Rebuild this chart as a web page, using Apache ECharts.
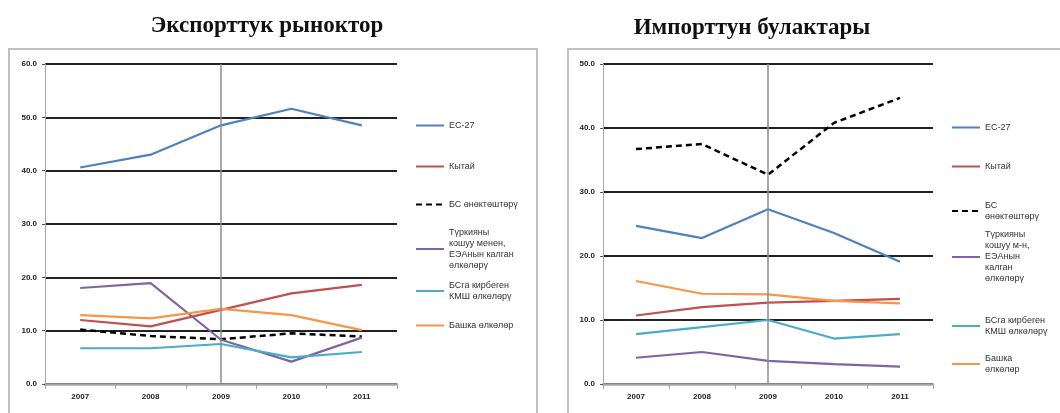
<!DOCTYPE html>
<html><head><meta charset="utf-8">
<script src="https://cdn.jsdelivr.net/npm/echarts@6/dist/echarts.min.js"></script>
<style>html,body{margin:0;padding:0;background:#fff}#c{width:1060px;height:413px}</style>
</head><body><div id="c"></div>
<script>
const years = ['2007','2008','2009','2010','2011'];
const seriesNames = ['ЕС-27','Кытай','БС өнөктөштөрү','Түркияны кошуу менен, ЕЭАнын калган өлкөлөрү','БСга кирбеген КМШ өлкөлөрү','Башка өлкөлөр'];
const exportTitle = 'Экспорттук рыноктор';
const importTitle = 'Импорттун булактары';
const exportLegend = ['ЕС-27','Кытай','БС өнөктөштөрү','Түркияны\nкошуу менен,\nЕЭАнын калган\nөлкөлөрү','БСга кирбеген\nКМШ өлкөлөрү','Башка өлкөлөр'];
const importLegend = ['ЕС-27','Кытай','БС\nөнөктөштөрү','Түркияны\nкошуу м-н,\nЕЭАнын\nкалган\nөлкөлөрү','БСга кирбеген\nКМШ өлкөлөрү','Башка\nөлкөлөр'];

const exportEU = [40.6, 43.0, 48.5, 51.6, 48.5];
const exportChina = [12.0, 10.8, 13.9, 17.0, 18.6];
const exportPartners = [10.2, 9.0, 8.4, 9.5, 8.9];
const exportEEA = [18.0, 18.9, 8.3, 4.2, 8.7];
const exportCIS = [6.7, 6.7, 7.5, 5.0, 6.0];
const exportOther = [12.9, 12.3, 14.1, 12.9, 10.1];

const importEU = [24.7, 22.8, 27.3, 23.6, 19.1];
const importChina = [10.7, 12.0, 12.7, 13.0, 13.3];
const importPartners = [36.7, 37.5, 32.7, 40.8, 44.7];
const importEEA = [4.1, 5.0, 3.6, 3.1, 2.7];
const importCIS = [7.8, 8.9, 10.0, 7.1, 7.8];
const importOther = [16.1, 14.1, 14.0, 13.0, 12.6];

const exportYTicks = {min:0, max:60, interval:10};
const importYTicks = {min:0, max:50, interval:10};

const colors = ['#4F81BD','#C0504D','#000000','#8064A2','#4BACC6','#F79646'];
const exportData = [exportEU, exportChina, exportPartners, exportEEA, exportCIS, exportOther];
const importData = [importEU, importChina, importPartners, importEEA, importCIS, importOther];

const chart = echarts.init(document.getElementById('c'));
const font = 'Liberation Sans, Arial, sans-serif';

function mkSeries(data, idx) {
  return data.map((d, i) => {
    const s = {
      name: seriesNames[i], type: 'line', xAxisIndex: idx, yAxisIndex: idx,
      data: d, symbol: 'none', silent: true, animation: false,
      lineStyle: {color: colors[i], width: i === 2 ? 2.5 : 2.2, type: i === 2 ? [6, 4] : 'solid'},
      itemStyle: {color: colors[i]}
    };
    if (i === 0) {
      s.markLine = {silent: true, symbol: 'none', label: {show: false},
        lineStyle: {color: '#8c8c8c', width: 1.5, type: 'solid'},
        data: [{xAxis: years[2]}]};
    }
    return s;
  });
}

function mkLegends(labels, left, centers) {
  return labels.map((lab, i) => {
    const lines = lab.split('\n').length;
    const h = Math.max(14, lines * 11);
    return {
      data: [seriesNames[i]], left: left, top: centers[i] - h / 2 - 3,
      orient: 'vertical', itemWidth: 28, itemHeight: 10, itemGap: 0,
      selectedMode: false,
      itemStyle: {opacity: 0},
      formatter: () => lab,
      textStyle: {fontFamily: font, fontSize: 9, color: '#333', lineHeight: 11}
    };
  });
}

function yAxis(idx, t) {
  return {
    type: 'value', gridIndex: idx, min: t.min, max: t.max, interval: t.interval,
    axisLine: {show: true, lineStyle: {color: '#a6a6a6', width: 1}},
    axisTick: {show: true, length: 3, lineStyle: {color: '#555'}},
    axisLabel: {formatter: v => v.toFixed(1), fontFamily: font, fontSize: 8, color: '#222', fontWeight: 'bold', margin: 8},
    splitLine: {show: true, lineStyle: {color: '#222', width: 2}}
  };
}
function xAxis(idx) {
  return {
    type: 'category', gridIndex: idx, data: years, boundaryGap: true,
    axisLine: {show: true, lineStyle: {color: '#a6a6a6', width: 2.5}},
    axisTick: {show: true, length: 5, lineStyle: {color: '#a6a6a6', width: 1}},
    axisLabel: {fontFamily: font, fontSize: 8, color: '#222', fontWeight: 'bold', margin: 9},
    splitLine: {show: false}
  };
}

chart.setOption({
  animation: false,
  title: [
    {text: exportTitle, left: 262, top: 10, textAlign: 'center',
     textStyle: {fontFamily: 'Liberation Serif, Times New Roman, serif', fontWeight: 'bold', fontSize: 23, color: '#111'}},
    {text: importTitle, left: 747, top: 12, textAlign: 'center',
     textStyle: {fontFamily: 'Liberation Serif, Times New Roman, serif', fontWeight: 'bold', fontSize: 23, color: '#111'}}
  ],
  graphic: [
    {type: 'rect', shape: {x: 9, y: 49, width: 528, height: 420}, style: {fill: 'none', stroke: '#c0c0c0', lineWidth: 2}, silent: true},
    {type: 'rect', shape: {x: 568, y: 49, width: 520, height: 420}, style: {fill: 'none', stroke: '#c0c0c0', lineWidth: 2}, silent: true}
  ],
  grid: [
    {left: 45, right: 663, top: 64, bottom: 29},
    {left: 603, right: 127, top: 64, bottom: 29}
  ],
  xAxis: [xAxis(0), xAxis(1)],
  yAxis: [yAxis(0, exportYTicks), yAxis(1, importYTicks)],
  legend: mkLegends(exportLegend, 410, [125, 166, 204, 247, 289, 325])
    .concat(mkLegends(importLegend, 946, [127, 166, 209, 255, 324, 362])),
  series: mkSeries(exportData, 0).concat(mkSeries(importData, 1))
});
</script></body></html>
